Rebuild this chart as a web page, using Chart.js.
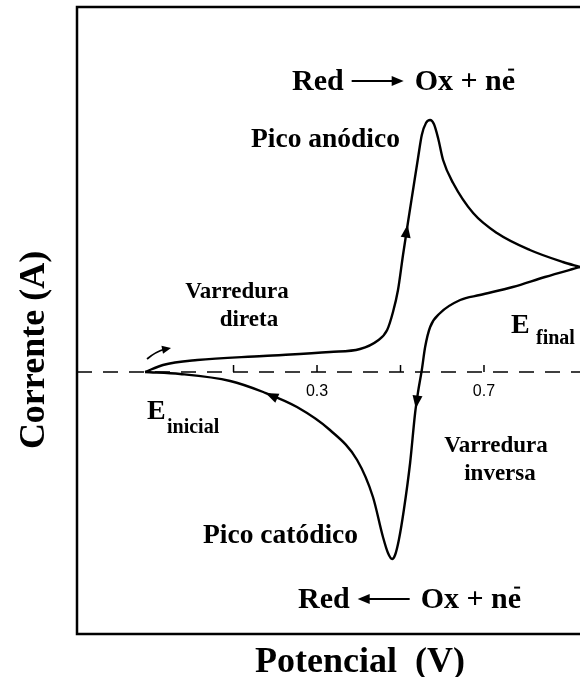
<!DOCTYPE html>
<html>
<head>
<meta charset="utf-8">
<script src="https://cdn.jsdelivr.net/npm/chart.js@4/dist/chart.umd.min.js"></script>
<style>
  html, body { margin: 0; padding: 0; background: #fff; }
  #wrap { width: 580px; height: 677px; position: relative; }
</style>
</head>
<body>
<div id="wrap"><canvas id="cv"></canvas></div>
<script>
/* Voltamograma cíclico — varredura direta e inversa */

// potencial (V) e corrente (unidades arbitrárias)
const FWD_E = [-0.112, -0.069, 0.013, 0.171, 0.331, 0.403, 0.444, 0.468, 0.482, 0.494, 0.506, 0.518, 0.530,
  0.542, 0.551, 0.561, 0.571, 0.580, 0.590, 0.602, 0.626, 0.674, 0.731, 0.810, 0.889, 0.930];
const FWD_I = [0, 0.7, 1.2, 1.6, 2.0, 2.3, 3.1, 4.2, 6.0, 8.2, 11.7, 15.0, 18.2,
  21.4, 23.7, 24.9, 25.2, 24.8, 23.4, 21.2, 18.9, 15.9, 13.9, 12.2, 11.0, 10.5];

const REV_E = [0.930, 0.846, 0.769, 0.690, 0.643, 0.595, 0.571, 0.559, 0.551, 0.542, 0.535, 0.523, 0.508,
  0.496, 0.487, 0.480, 0.470, 0.458, 0.434, 0.396, 0.331, 0.252, 0.171, 0.092, -0.028, -0.112];
const REV_I = [10.5, 9.5, 8.5, 7.7, 7.2, 5.9, 4.5, 2.5, 0.2, -2.0, -4.1, -9.1, -13.8,
  -16.8, -18.3, -18.7, -18.1, -16.5, -12.5, -8.8, -5.8, -3.5, -2.0, -0.9, -0.2, 0];

const TICK_E = [0.1, 0.3, 0.5, 0.7];
const TICK_LABELS = ["", "0.3", "", "0.7"];

const E_MIN = -0.275, E_MAX = 0.93;
const I_MIN = -26.2, I_MAX = 36.5;

// setas sobre a curva: [série, índice do segmento, avanço em px]
const CURVE_ARROWS = [["fwd", 10, 14], ["rev", 9, 6], ["rev", 21, 16]];

const SERIF = "'Liberation Serif', 'Times New Roman', serif";

function pts(xs, ys) {
  return xs.map((x, i) => ({ x, y: ys[i] }));
}

const zeroLine = [{ x: E_MIN, y: 0 }, { x: E_MAX, y: 0 }];

function arrowHead(ctx, x, y, ang, len, half) {
  ctx.save();
  ctx.translate(x, y);
  ctx.rotate(ang);
  ctx.beginPath();
  ctx.moveTo(0, 0);
  ctx.lineTo(-len, -half);
  ctx.lineTo(-len, half);
  ctx.closePath();
  ctx.fill();
  ctx.restore();
}

function text(ctx, s, x, y, size, align) {
  ctx.font = `bold ${size}px ${SERIF}`;
  ctx.textAlign = align || "left";
  ctx.fillText(s, x, y);
  return ctx.measureText(s).width;
}

// equação "Red → Ox + ne⁻" com seta desenhada
function equation(ctx, x, y, size, arrowLeft) {
  let cx = x;
  cx += text(ctx, "Red", cx, y, size);
  const a0 = cx + 8, a1 = cx + 60, ay = y - size * 0.3;
  ctx.lineWidth = 2.2;
  ctx.beginPath();
  if (arrowLeft) {
    ctx.moveTo(a1, ay); ctx.lineTo(a0 + 8, ay); ctx.stroke();
    arrowHead(ctx, a0, ay, Math.PI, 12, 5);
  } else {
    ctx.moveTo(a0, ay); ctx.lineTo(a1 - 8, ay); ctx.stroke();
    arrowHead(ctx, a1, ay, 0, 12, 5);
  }
  cx = a1 + 11;
  cx += text(ctx, "Ox + ne", cx, y, size);
  ctx.lineWidth = 2;
  ctx.beginPath();
  ctx.moveTo(cx - 7, y - size * 0.68);
  ctx.lineTo(cx - 1, y - size * 0.68);
  ctx.stroke();
}

const decor = {
  id: "decor",
  afterDatasetsDraw(chart) {
    const { ctx, chartArea: ca } = chart;
    const sx = chart.scales.x, sy = chart.scales.y;
    ctx.save();
    ctx.strokeStyle = "#000";
    ctx.fillStyle = "#000";

    // moldura (sem borda direita)
    ctx.lineWidth = 2.5;
    ctx.beginPath();
    ctx.moveTo(ca.right + 2, ca.top);
    ctx.lineTo(ca.left, ca.top);
    ctx.lineTo(ca.left, ca.bottom);
    ctx.lineTo(ca.right + 2, ca.bottom);
    ctx.stroke();

    // marcas no eixo de corrente zero
    const y0 = sy.getPixelForValue(0);
    ctx.lineWidth = 1.5;
    ctx.font = "16px 'Liberation Sans', Arial, sans-serif";
    ctx.textAlign = "center";
    ctx.textBaseline = "alphabetic";
    TICK_E.forEach((e, i) => {
      const x = sx.getPixelForValue(e);
      ctx.beginPath();
      ctx.moveTo(x, y0);
      ctx.lineTo(x, y0 - 7);
      ctx.stroke();
      if (TICK_LABELS[i]) ctx.fillText(TICK_LABELS[i], x, y0 + 24);
    });

    // setas de sentido da varredura
    CURVE_ARROWS.forEach(([s, k, adv]) => {
      const xs = s === "fwd" ? FWD_E : REV_E;
      const ys = s === "fwd" ? FWD_I : REV_I;
      const x1 = sx.getPixelForValue(xs[k]), y1 = sy.getPixelForValue(ys[k]);
      const x2 = sx.getPixelForValue(xs[k + 1]), y2 = sy.getPixelForValue(ys[k + 1]);
      const ang = Math.atan2(y2 - y1, x2 - x1);
      arrowHead(ctx, (x1 + x2) / 2 + adv * Math.cos(ang), (y1 + y2) / 2 + adv * Math.sin(ang), ang, 13, 5);
    });

    // seta curva no início
    const bx = sx.getPixelForValue(FWD_E[0]);
    ctx.lineWidth = 1.8;
    ctx.beginPath();
    ctx.moveTo(bx + 2, y0 - 13);
    ctx.quadraticCurveTo(bx + 10, y0 - 20, bx + 20, y0 - 23);
    ctx.stroke();
    arrowHead(ctx, bx + 26, y0 - 24, -0.2, 9, 4);

    // rótulos
    ctx.textBaseline = "alphabetic";
    equation(ctx, 292, 90, 30, false);
    equation(ctx, 298, 608, 30, true);
    text(ctx, "Pico anódico", 251, 147, 27.5);
    text(ctx, "Pico catódico", 203, 543, 27.5);
    text(ctx, "Varredura", 237, 298, 23, "center");
    text(ctx, "direta", 249, 326, 23, "center");
    text(ctx, "Varredura", 496, 452, 23, "center");
    text(ctx, "inversa", 500, 480, 23, "center");
    text(ctx, "E", 147, 419, 28);
    text(ctx, "inicial", 167, 433, 20);
    text(ctx, "E", 511, 333, 28);
    text(ctx, "final", 536, 344, 20);

    // títulos dos eixos
    text(ctx, "Potencial  (V)", 360, 672, 36, "center");
    ctx.save();
    ctx.translate(44, sy.getPixelForValue(0) - 22);
    ctx.rotate(-Math.PI / 2);
    text(ctx, "Corrente (A)", 0, 0, 36, "center");
    ctx.restore();

    ctx.restore();
  }
};

const curve = {
  borderColor: "#000",
  borderWidth: 2.4,
  pointRadius: 0,
  showLine: true,
  cubicInterpolationMode: "monotone",
  fill: false,
};

new Chart(document.getElementById("cv"), {
  type: "scatter",
  data: {
    datasets: [
      { ...curve, label: "direta", data: pts(FWD_E, FWD_I) },
      { ...curve, label: "inversa", data: pts(REV_E, REV_I) },
      {
        label: "zero", data: zeroLine, showLine: true, pointRadius: 0,
        borderColor: "#000", borderWidth: 1.6, borderDash: [15, 11],
      },
    ],
  },
  options: {
    responsive: true,
    maintainAspectRatio: false,
    animation: false,
    layout: { padding: { left: 77, top: 7, right: 0, bottom: 43 } },
    plugins: { legend: { display: false }, tooltip: { enabled: false } },
    scales: {
      x: { type: "linear", min: E_MIN, max: E_MAX, display: false },
      y: { type: "linear", min: I_MIN, max: I_MAX, display: false },
    },
  },
  plugins: [decor],
});
</script>
</body>
</html>
